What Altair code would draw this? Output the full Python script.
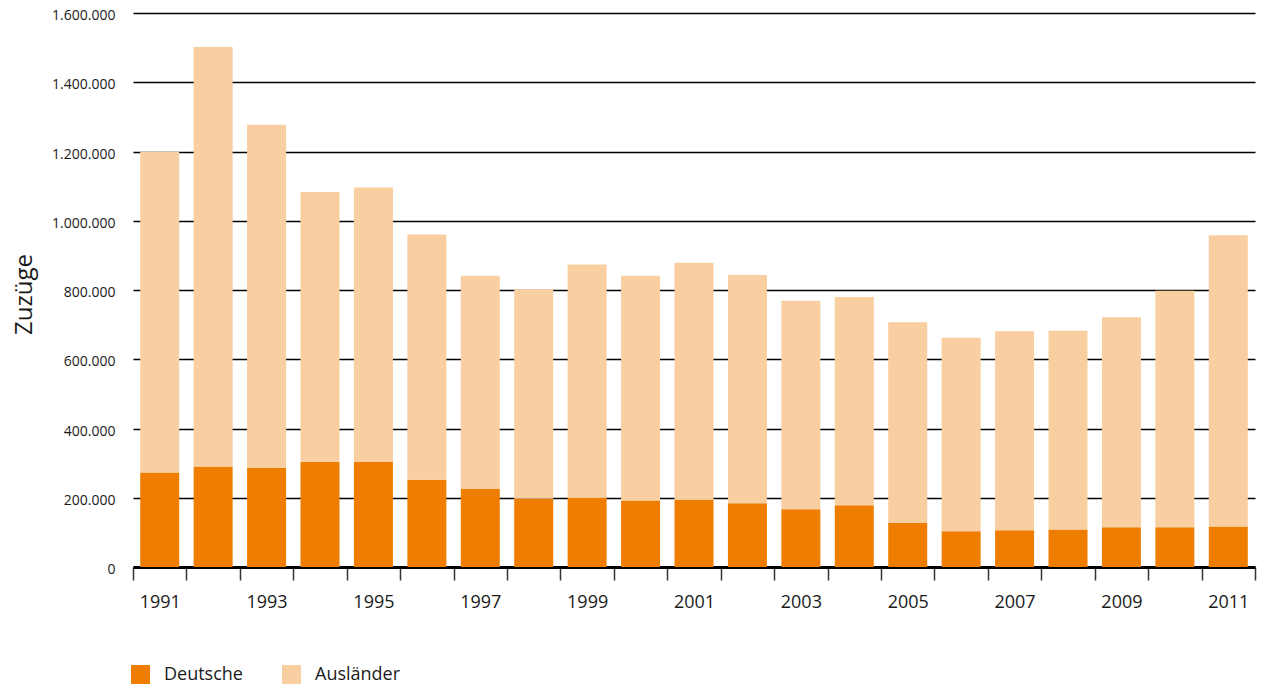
import altair as alt
import pandas as pd

years = [str(y) for y in range(1991, 2012)]
deutsche = [273000, 290000, 287000, 304000, 303000, 252000, 225000, 197000, 200000, 192000,
            194000, 184000, 167000, 178000, 128000, 103000, 106000, 108000, 115000, 115000, 117000]
auslaender = [926000, 1212000, 990000, 779000, 793000, 708000, 616000, 605000, 674000, 649000,
              685000, 659000, 602000, 602000, 579000, 559000, 575000, 574000, 606000, 683000, 841000]
groups = ["Deutsche", "Ausländer"]
colors = ["#EF7D00", "#F9CEA0"]

rows = []
for i, y in enumerate(years):
    rows.append({"Jahr": y, "Gruppe": groups[0], "Wert": deutsche[i], "ord": 0})
    rows.append({"Jahr": y, "Gruppe": groups[1], "Wert": auslaender[i], "ord": 1})
df = pd.DataFrame(rows)

FONT = "Open Sans"

chart = alt.Chart(df).mark_bar(width=alt.RelativeBandSize(0.73)).encode(
    x=alt.X("Jahr:N", sort=years, title=None,
            scale=alt.Scale(paddingInner=0, paddingOuter=0),
            axis=alt.Axis(labelAngle=0, tickBand="extent", tickSize=13, tickColor="#333333",
                          tickWidth=1.5, domainColor="#000000", domainWidth=3,
                          labelFontSize=18, labelPadding=13, labelColor="#1a1a1a",
                          labelExpr="toNumber(datum.value) % 2 == 1 ? datum.value : ''",
                          grid=False)),
    y=alt.Y("Wert:Q", stack="zero", title="Zuzüge",
            scale=alt.Scale(domain=[0, 1600000], nice=False),
            axis=alt.Axis(values=[0, 200000, 400000, 600000, 800000, 1000000, 1200000, 1400000, 1600000],
                          labelExpr="replace(replace(format(datum.value, ','), ',', '.'), ',', '.')",
                          domain=False, ticks=False, grid=True, gridColor="#000000", gridWidth=1.3,
                          labelFontSize=14, labelPadding=18, labelOffset=2.5, labelColor="#1a1a1a",
                          titleFontSize=24, titleFontWeight="normal", titleColor="#1a1a1a",
                          titleAngle=-90, titleX=-121, titleY=281, titleBaseline="top",
                          titleAlign="center")),
    color=alt.Color("Gruppe:N", sort=groups,
                    scale=alt.Scale(domain=groups, range=colors),
                    legend=alt.Legend(title=None, orient="none", direction="horizontal",
                                      legendX=-2, legendY=652, symbolType="square",
                                      symbolSize=361, symbolStrokeWidth=0, symbolOpacity=1,
                                      labelFontSize=18, labelOffset=14, columnPadding=39,
                                      labelColor="#1a1a1a", padding=0)),
    order=alt.Order("ord:Q", sort="ascending"),
).properties(
    width=1122, height=554,
    autosize=alt.AutoSizeParams(type="none"),
    padding={"left": 125, "top": 5, "right": 2, "bottom": 119},
).configure(
    font=FONT
).configure_view(
    stroke=None
)

chart.save("out.html", embed_options={"renderer": "svg", "actions": False})
